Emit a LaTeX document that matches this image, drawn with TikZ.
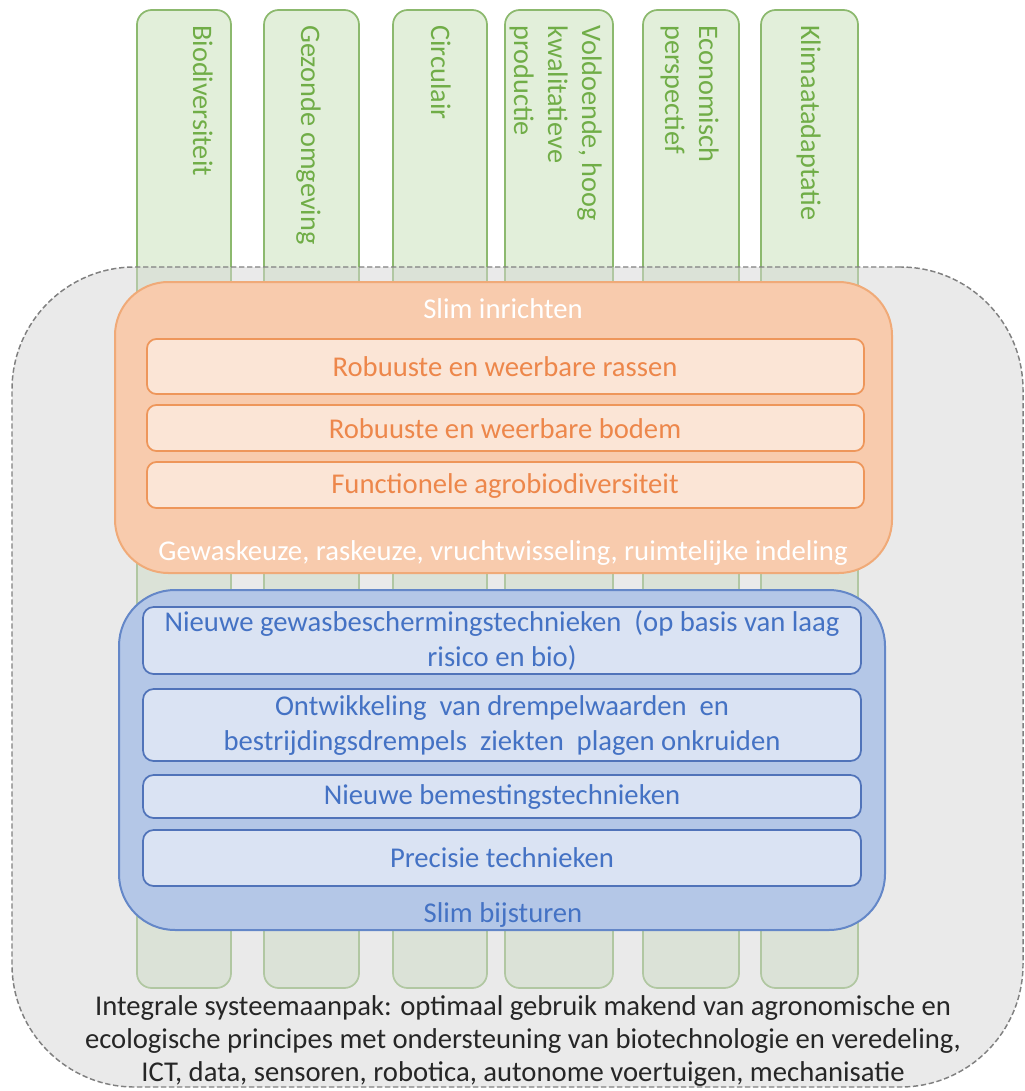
\documentclass[tikz,border=0pt]{standalone}
\usepackage{fontspec}
\setmainfont{Carlito}
\usetikzlibrary{fit}
\definecolor{colfill}{RGB}{226,239,218}
\definecolor{coldraw}{RGB}{140,185,110}
\definecolor{coltxt}{RGB}{112,173,71}
\definecolor{ofill}{RGB}{248,203,173}
\definecolor{odraw}{RGB}{240,170,120}
\definecolor{oinfill}{RGB}{251,229,214}
\definecolor{oindraw}{RGB}{238,150,90}
\definecolor{otxt}{RGB}{237,135,75}
\definecolor{bfill}{RGB}{180,199,231}
\definecolor{bdraw}{RGB}{100,135,200}
\definecolor{binfill}{RGB}{218,227,243}
\definecolor{bindraw}{RGB}{80,115,185}
\definecolor{btxt}{RGB}{68,114,196}
\definecolor{gfill}{RGB}{214,214,214}
\definecolor{gdraw}{RGB}{128,128,128}
\definecolor{systxt}{RGB}{38,38,38}
\begin{document}
\begin{tikzpicture}[x=0.75pt,y=-0.75pt,
  colbox/.style={draw=coldraw, fill=colfill, line width=1.3pt, rounded corners=11pt, inner sep=0pt},
  coltext/.style={text=coltxt, rotate=-90, anchor=north west, inner sep=0pt, align=left,
    font=\fontsize{21.2}{25.5}\selectfont},
  sysbox/.style={draw=gdraw, fill=gfill, fill opacity=0.5, dash pattern=on 4pt off 2pt,
    line width=1.1pt, rounded corners=92pt, inner sep=0pt},
  obox/.style={draw=odraw, fill=ofill, line width=1.5pt, rounded corners=40pt, inner sep=0pt},
  oinbox/.style={draw=oindraw, fill=oinfill, line width=1.3pt, rounded corners=7pt, inner sep=0pt},
  ointext/.style={text=otxt, inner sep=0pt, font=\fontsize{21.5}{26}\selectfont},
  bbox/.style={draw=bdraw, fill=bfill, line width=1.5pt, rounded corners=42pt, inner sep=0pt},
  binbox/.style={draw=bindraw, fill=binfill, line width=1.3pt, rounded corners=8pt, inner sep=0pt},
  bintext/.style={text=btxt, align=center, inner sep=0pt, font=\fontsize{21.5}{26.25}\selectfont},
  whitetitle/.style={text=white, font=\fontsize{21.5}{26}\selectfont, inner sep=0pt},
  bluetitle/.style={text=btxt, font=\fontsize{21.5}{26}\selectfont, inner sep=0pt},
  systext/.style={text=systxt, align=center, font=\fontsize{21.5}{24.9}\selectfont, inner sep=0pt}
]
\useasboundingbox (0,0) rectangle (1024,1091);

% columns
\node[colbox, fit={(137,10) (231,988)}] (c1) {};
\node[colbox, fit={(264,10) (359,988)}] (c2) {};
\node[colbox, fit={(393,10) (487,988)}] (c3) {};
\node[colbox, fit={(505,10) (613,988)}] (c4) {};
\node[colbox, fit={(643,10) (739,988)}] (c5) {};
\node[colbox, fit={(761,10) (858,988)}] (c6) {};

\node[coltext] (t1) at (213,25) {Biodiversiteit};
\node[coltext] (t2) at (321,25) {Gezonde omgeving};
\node[coltext] (t3) at (451,25) {Circulair};
\node[coltext] (t4) at (602,25) {Voldoende, hoog\\kwalitatieve\\productie};
\node[coltext] (t5) at (719,25) {Economisch\\perspectief};
\node[coltext] (t6) at (821,25) {Klimaatadaptatie};

% system box
\node[sysbox, fit={(12,267) (1023,1087)}] (sys) {};

% orange
\node[obox, fit={(115,282) (892,573)}] (slimin) {};
\node[whitetitle] (slimt) at (503,309) {Slim inrichten};
\node[oinbox, fit={(147,339) (864,394)}] (o1) {};
\node[oinbox, fit={(147,405) (864,451)}] (o2) {};
\node[oinbox, fit={(147,462) (864,508)}] (o3) {};
\node[ointext] (o1t) at (505,367) {Robuuste en weerbare rassen};
\node[ointext] (o2t) at (505,429) {Robuuste en weerbare bodem};
\node[ointext] (o3t) at (505,486) {Functionele agrobiodiversiteit};
\node[whitetitle] (gew) at (503,553) {Gewaskeuze, raskeuze, vruchtwisseling, ruimtelijke indeling};

% blue
\node[bbox, fit={(119,590) (885,930)}] (slimbij) {};
\node[binbox, fit={(143,607) (861,674)}] (b1) {};
\node[binbox, fit={(143,689) (861,761)}] (b2) {};
\node[binbox, fit={(143,775) (861,818)}] (b3) {};
\node[binbox, fit={(143,830) (861,886)}] (b4) {};
\node[bintext] (b1t) at (502,641) {Nieuwe gewasbeschermingstechnieken\ \ (op basis van laag\\risico en bio)};
\node[bintext] (b2t) at (502,726) {Ontwikkeling\ \ van drempelwaarden\ \ en\\bestrijdingsdrempels\ \ ziekten\ \ plagen onkruiden};
\node[bintext] (b3t) at (502,797) {Nieuwe bemestingstechnieken};
\node[bintext] (b4t) at (502,858) {Precisie technieken};
\node[bluetitle] (bijt) at (503,915) {Slim bijsturen};

% bottom text
\node[systext] (sist) at (523,1041) {Integrale systeemaanpak: optimaal gebruik makend van agronomische en\\ecologische principes met ondersteuning van biotechnologie en veredeling,\\ICT, data, sensoren, robotica, autonome voertuigen, mechanisatie};
\end{tikzpicture}
\end{document}
